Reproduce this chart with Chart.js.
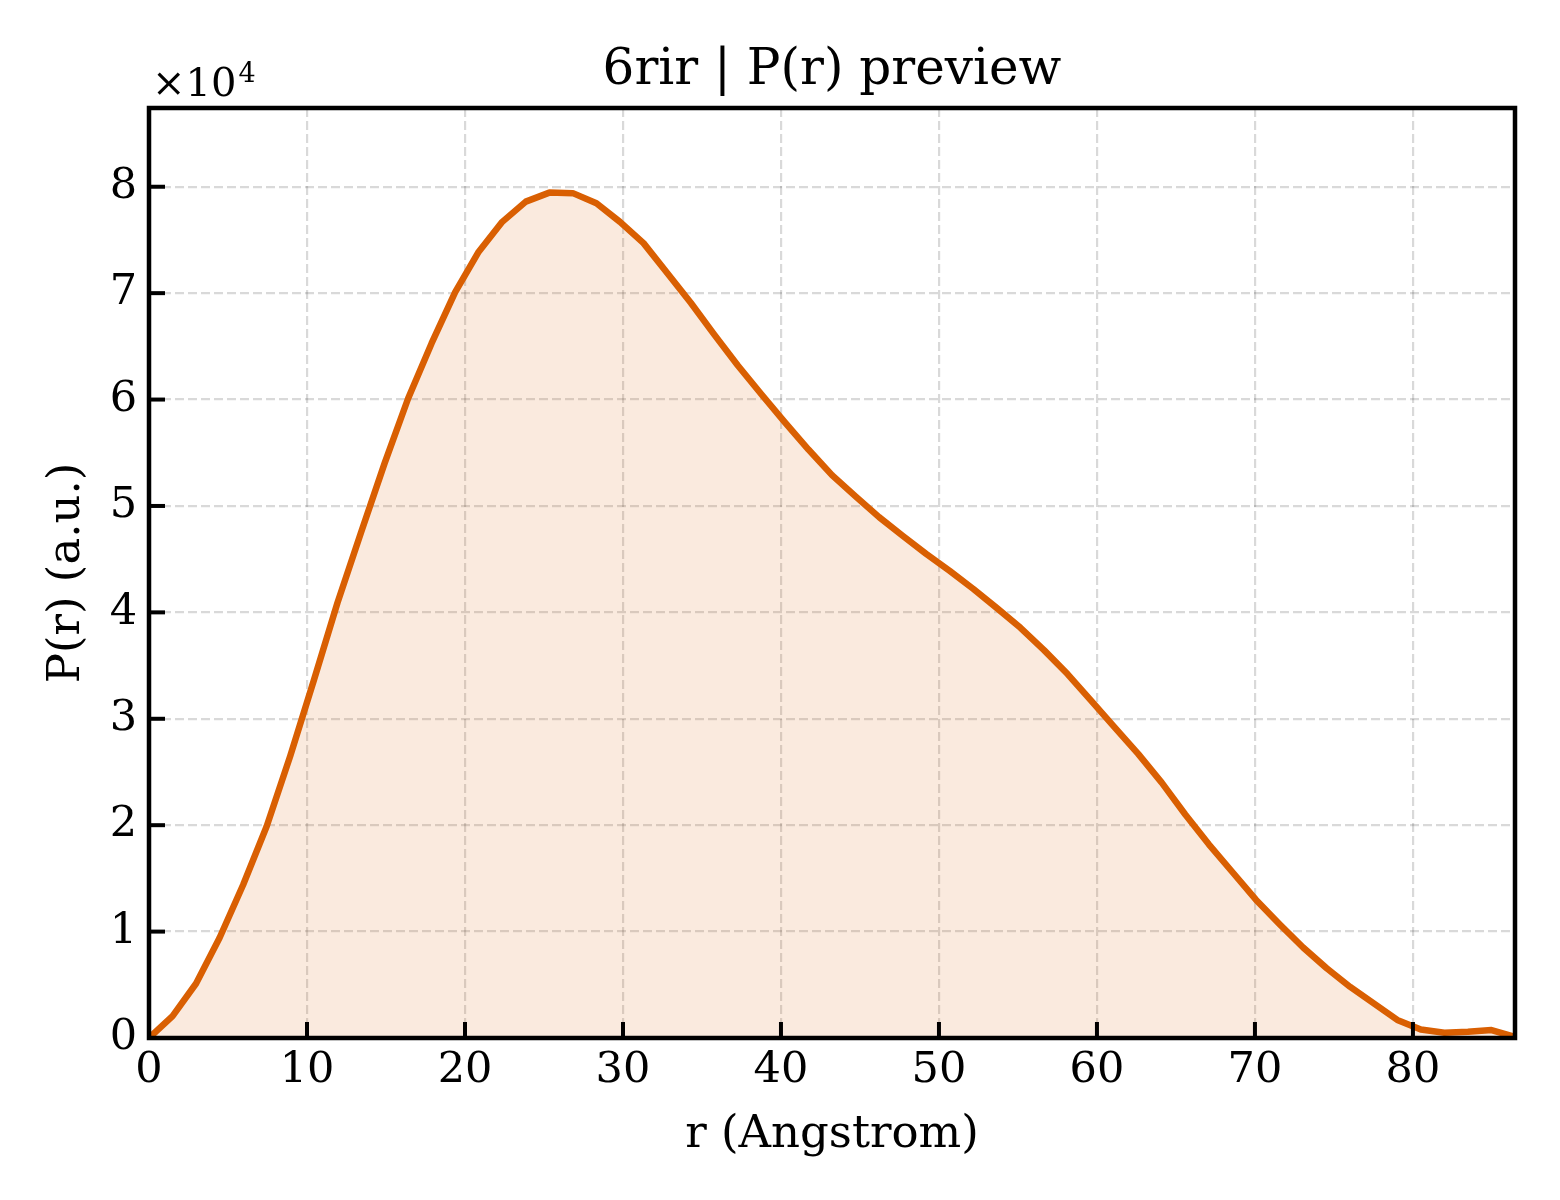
<!DOCTYPE html>
<html><head><meta charset="utf-8">
<script src="https://cdn.jsdelivr.net/npm/chart.js@4"></script>
<style>html,body{margin:0;padding:0;background:#fff}#wrap{width:1560px;height:1200px;position:relative}</style>
</head><body><div id="wrap"><canvas id="c"></canvas></div>
<script>
// ---- data ----
const rValues = [0, 1.49, 2.98, 4.47, 5.96, 7.45, 8.94, 10.43, 11.93, 13.42, 14.91, 16.40, 17.89, 19.38, 20.87, 22.36, 23.85, 25.34, 26.83, 28.32, 29.81, 31.30, 32.80, 34.29, 35.78, 37.27, 38.76, 40.25, 41.74, 43.23, 44.72, 46.21, 47.70, 49.19, 50.68, 52.18, 53.67, 55.16, 56.65, 58.14, 59.63, 61.12, 62.61, 64.10, 65.59, 67.08, 68.57, 70.06, 71.56, 73.05, 74.54, 76.03, 77.52, 79.01, 80.50, 81.99, 83.48, 84.97, 86.46];
const pValues = [0, 2050, 5120, 9420, 14400, 19900, 26500, 33600, 40900, 47500, 54000, 60100, 65300, 70100, 73900, 76700, 78600, 79450, 79400, 78450, 76700, 74700, 71900, 69100, 66100, 63200, 60500, 57850, 55300, 52900, 50900, 48950, 47200, 45500, 43900, 42200, 40400, 38550, 36450, 34200, 31700, 29200, 26700, 24000, 21000, 18200, 15600, 13000, 10700, 8500, 6550, 4800, 3250, 1700, 800, 500, 580, 750, 100];
const xTickValues = [0, 10, 20, 30, 40, 50, 60, 70, 80];
const yTickValues = [0, 10000, 20000, 30000, 40000, 50000, 60000, 70000, 80000];
const X_MIN = 0, X_MAX = 86.46, Y_MIN = 0, Y_MAX = 87400;
const Y_SCALE_EXP = 4;
const titleText = '6rir | P(r) preview';
const xLabel = 'r (Angstrom)';
const yLabel = 'P(r) (a.u.)';

const FONT = "'DejaVu Serif', serif";
const LINE_COLOR = '#d95f02';
const FILL_COLOR = 'rgba(217,95,2,0.13)';

const framePlugin = {
  id: 'frame',
  afterDatasetsDraw(chart) {
    const {ctx, chartArea: a, scales} = chart;
    ctx.save();
    ctx.strokeStyle = '#000';
    ctx.lineWidth = 4;
    const tl = 16;
    scales.x.ticks.forEach(t => {
      const px = scales.x.getPixelForValue(t.value);
      ctx.beginPath(); ctx.moveTo(px, a.bottom); ctx.lineTo(px, a.bottom - tl); ctx.stroke();
    });
    scales.y.ticks.forEach(t => {
      const py = scales.y.getPixelForValue(t.value);
      ctx.beginPath(); ctx.moveTo(a.left, py); ctx.lineTo(a.left + tl, py); ctx.stroke();
    });
    ctx.lineWidth = 4.5;
    ctx.strokeRect(a.left, a.top, a.right - a.left, a.bottom - a.top);
    ctx.restore();
  },
  afterDraw(chart) {
    const {ctx, chartArea: a} = chart;
    ctx.save();
    ctx.fillStyle = '#000';
    ctx.font = '50px ' + FONT;
    ctx.textAlign = 'center';
    ctx.textBaseline = 'alphabetic';
    ctx.fillText(titleText, (a.left + a.right) / 2, 84);
    ctx.textAlign = 'left';
    ctx.font = '40px ' + FONT;
    const base = '\u00d710';
    ctx.fillText(base, a.left + 3, 96);
    const w = ctx.measureText(base).width;
    ctx.font = '27px ' + FONT;
    ctx.fillText(String(Y_SCALE_EXP), a.left + 3 + w + 2, 82);
    ctx.restore();
  }
};

new Chart(document.getElementById('c'), {
  type: 'line',
  data: {
    datasets: [{
      data: rValues.map((r, i) => ({x: r, y: pValues[i]})),
      borderColor: LINE_COLOR,
      backgroundColor: FILL_COLOR,
      borderWidth: 6.5,
      fill: 'origin',
      pointRadius: 0,
      tension: 0,
      borderJoinStyle: 'round'
    }]
  },
  options: {
    responsive: true,
    maintainAspectRatio: false,
    animation: false,
    layout: {padding: {top: 108, right: 45, left: 0, bottom: 0}},
    plugins: {legend: {display: false}, tooltip: {enabled: false}, title: {display: false}},
    scales: {
      x: {
        type: 'linear', min: X_MIN, max: X_MAX,
        afterBuildTicks: s => { s.ticks = xTickValues.map(v => ({value: v})); },
        afterFit: s => { s.height = 162; },
        grid: {color: 'rgba(0,0,0,0.15)', lineWidth: 2.2, drawTicks: false},
        border: {display: false, dash: [9, 4]},
        ticks: {color: '#000', font: {family: FONT, size: 43}, padding: 7, maxRotation: 0, callback: v => String(v)},
        title: {display: true, text: xLabel, color: '#000', font: {family: FONT, size: 45, lineHeight: 1}, padding: {top: 0, bottom: 42}}
      },
      y: {
        type: 'linear', min: Y_MIN, max: Y_MAX,
        afterBuildTicks: s => { s.ticks = yTickValues.map(v => ({value: v})); },
        afterFit: s => { s.width = 149; },
        grid: {color: 'rgba(0,0,0,0.15)', lineWidth: 2.2, drawTicks: false},
        border: {display: false, dash: [9, 4]},
        ticks: {color: '#000', font: {family: FONT, size: 43}, padding: 12, callback: v => String(v / Math.pow(10, Y_SCALE_EXP))},
        title: {display: true, text: yLabel, color: '#000', font: {family: FONT, size: 45, lineHeight: 1}, padding: {top: 45, bottom: 0}}
      }
    }
  },
  plugins: [framePlugin]
});
</script></body></html>
